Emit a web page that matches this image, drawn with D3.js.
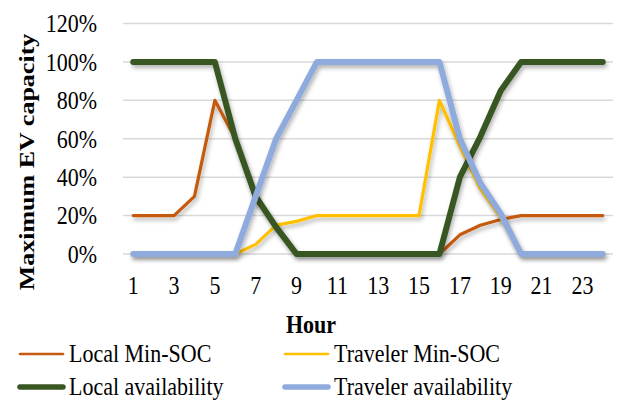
<!DOCTYPE html>
<html>
<head>
<meta charset="utf-8">
<script src="https://cdn.jsdelivr.net/npm/d3@7/dist/d3.min.js"></script>
<style>
  body { margin: 0; background: #fff; }
  text { font-family: "Liberation Serif", "Times New Roman", serif; fill: #000; }
  .grid line { stroke: #d9d9d9; stroke-width: 1.5; }
  .line { fill: none; stroke-linejoin: round; stroke-linecap: round; }
</style>
</head>
<body>
<script>
// data
var hours = d3.range(1, 25);
var tickHours = [1, 3, 5, 7, 9, 11, 13, 15, 17, 19, 21, 23];
var yTicks = [0, 0.2, 0.4, 0.6, 0.8, 1.0, 1.2];

var localMinSoc    = [0.20,0.20,0.20,0.30,0.80,0.60,0.28,0.15,0,0,0,0,0,0,0,0,0.10,0.15,0.18,0.20,0.20,0.20,0.20,0.20];
var travelerMinSoc = [0,0,0,0,0,0,0.05,0.15,0.17,0.20,0.20,0.20,0.20,0.20,0.20,0.80,0.56,0.34,0.19,0,0,0,0,0];
var localAvail     = [1,1,1,1,1,0.60,0.30,0.14,0,0,0,0,0,0,0,0,0.40,0.61,0.85,1,1,1,1,1];
var travelerAvail  = [0,0,0,0,0,0,0.30,0.60,0.80,1,1,1,1,1,1,1,0.60,0.37,0.21,0,0,0,0,0];

var series = [
  {name: "Local Min-SOC", values: localMinSoc, color: "#c55a11", width: 3.2},
  {name: "Traveler Min-SOC", values: travelerMinSoc, color: "#ffc000", width: 3.2},
  {name: "Local availability", values: localAvail, color: "#385723", width: 6},
  {name: "Traveler availability", values: travelerAvail, color: "#8faadc", width: 6}
];

var width = 617, height = 401;
var plot = {left: 123, right: 613, top: 23.5, bottom: 254};
var fs = 26, sx = 0.846;   // the original text looks squeezed sideways

var svg = d3.select("body").append("svg")
  .attr("width", width)
  .attr("height", height);

var defs = svg.append("defs");
var f = defs.append("filter").attr("id", "shadow")
  .attr("x", "-10%").attr("y", "-10%").attr("width", "120%").attr("height", "130%");
f.append("feDropShadow")
  .attr("dx", 1.5).attr("dy", 3).attr("stdDeviation", 2)
  .attr("flood-color", "#000").attr("flood-opacity", 0.3);

var x = d3.scaleBand()
  .domain(hours)
  .range([plot.left, plot.right]);

var y = d3.scaleLinear()
  .domain([0, 1.2])
  .range([plot.bottom, plot.top]);

function cx(h) { return x(h) + x.bandwidth() / 2; }

// gridlines
svg.append("g")
  .attr("class", "grid")
  .selectAll("line")
  .data(yTicks).enter()
  .append("line")
  .attr("x1", plot.left)
  .attr("x2", plot.right)
  .attr("y1", function(d) { return y(d); })
  .attr("y2", function(d) { return y(d); });

// y axis labels
var yAxis = d3.axisLeft(y)
  .tickValues(yTicks)
  .tickFormat(d3.format(".0%"))
  .tickSize(0)
  .tickPadding(0);

var gy = svg.append("g")
  .attr("transform", "translate(97,0)")
  .call(yAxis);
gy.select(".domain").remove();
gy.selectAll("text")
  .attr("font-size", fs + "px")
  .attr("font-family", "Liberation Serif, serif")
  .attr("dy", "0.32em")
  .attr("transform", "scale(" + sx + ",1)");

// x axis labels
var xAxis = d3.axisBottom(x)
  .tickValues(tickHours)
  .tickSize(0)
  .tickPadding(0);

var gx = svg.append("g")
  .attr("transform", "translate(0,294)")
  .call(xAxis);
gx.select(".domain").remove();
gx.selectAll("text")
  .attr("font-size", fs + "px")
  .attr("font-family", "Liberation Serif, serif")
  .attr("dy", "0")
  .attr("transform", "scale(" + sx + ",1)");

// axis titles
svg.append("text")
  .attr("transform", "translate(311,333) scale(" + sx + ",1)")
  .attr("text-anchor", "middle")
  .attr("font-weight", "bold")
  .attr("font-size", fs + "px")
  .text("Hour");

svg.append("text")
  .attr("transform", "translate(34,162) scale(" + sx + ",1) rotate(-90)")
  .attr("text-anchor", "middle")
  .attr("font-weight", "bold")
  .attr("font-size", "26px")
  .text("Maximum EV capacity");

// lines
var line = d3.line()
  .x(function(d, i) { return cx(hours[i]); })
  .y(function(d) { return y(d); });

svg.append("g")
  .selectAll("path")
  .data(series).enter()
  .append("path")
  .attr("class", "line")
  .attr("filter", "url(#shadow)")
  .attr("stroke", function(d) { return d.color; })
  .attr("stroke-width", function(d) { return d.width; })
  .attr("d", function(d) { return line(d.values); });

// legend
var legendPos = [[20, 354], [285, 354], [20, 387], [285, 387]];
var leg = svg.append("g")
  .selectAll("g")
  .data(series).enter()
  .append("g")
  .attr("transform", function(d, i) { return "translate(" + legendPos[i][0] + "," + legendPos[i][1] + ")"; });

leg.append("line")
  .attr("x1", 0).attr("x2", 43)
  .attr("stroke", function(d) { return d.color; })
  .attr("stroke-width", function(d) { return d.width - 0.5; })
  .attr("stroke-linecap", "round");

leg.append("text")
  .attr("transform", "translate(49,8) scale(" + sx + ",1)")
  .attr("font-size", fs + "px")
  .text(function(d) { return d.name; });
</script>
</body>
</html>
